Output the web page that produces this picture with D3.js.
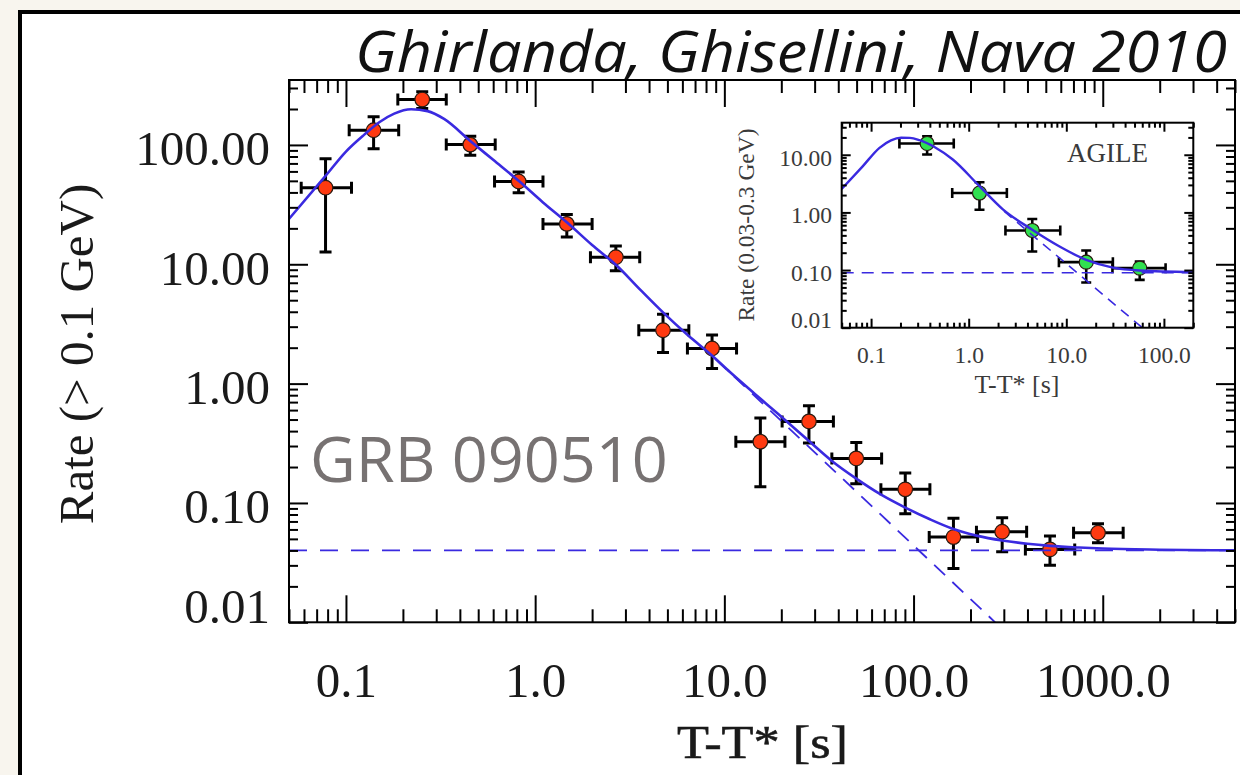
<!DOCTYPE html>
<html><head><meta charset="utf-8">
<script src="https://cdn.jsdelivr.net/npm/d3@7"></script>
<style>
html,body{margin:0;padding:0;background:#f8f5ee;overflow:hidden}
svg{display:block}
</style></head><body>
<svg id="c" width="1240" height="775"></svg>
<script>
// ---------- main panel data (Fermi-LAT, > 0.1 GeV) ----------
const lat_t    = [0.078, 0.140, 0.253, 0.454, 0.818, 1.47, 2.67, 4.74, 8.61, 15.5, 28.0, 49.8, 90.4, 162.5, 294, 526, 944];
const lat_rate = [43.8, 132.7, 240, 100.6, 49.4, 21.8, 11.45, 2.80, 1.97, 0.326, 0.482, 0.236, 0.130, 0.0518, 0.0574, 0.0408, 0.0563];
const lat_tLo  = [0.058, 0.104, 0.188, 0.339, 0.61, 1.10, 1.96, 3.53, 6.38, 11.5, 20.2, 37.0, 67.2, 121, 215, 390, 701];
const lat_tHi  = [0.107, 0.190, 0.339, 0.615, 1.10, 2.00, 3.57, 6.49, 11.6, 20.9, 37.7, 67.8, 122, 218, 396, 711, 1282];
const lat_rLo  = [12.7, 93, 202, 81.8, 39.7, 16.9, 8.84, 1.82, 1.34, 0.137, 0.318, 0.145, 0.0813, 0.0283, 0.039, 0.030, 0.0464];
const lat_rHi  = [76.7, 172, 279, 118, 59.3, 26.1, 14.2, 3.82, 2.56, 0.515, 0.653, 0.321, 0.178, 0.0744, 0.0752, 0.0528, 0.067];

// fitted model
const fit_t    = [0.05, 0.078, 0.1, 0.125, 0.15, 0.18, 0.221, 0.27, 0.33, 0.454, 0.6, 0.818, 1.1, 1.47, 2.0, 2.67, 3.6, 4.74, 6.4, 8.6, 10.7, 14.5, 19.4, 28, 37, 49.8, 67, 90.4, 122, 162.5, 218, 294, 400, 526, 750, 1000, 2000, 5000];
const fit_rate = [24, 55, 88, 122, 155, 183, 199, 192, 165, 108, 75, 50, 33, 22.5, 14.5, 9.9, 6.1, 3.95, 2.55, 1.72, 1.25, 0.82, 0.55, 0.33, 0.225, 0.16, 0.118, 0.0915, 0.073, 0.0605, 0.053, 0.0485, 0.0455, 0.0437, 0.0423, 0.0415, 0.0406, 0.0401];
const decay_t    = [9, 270];
const decay_rate = [1.6, 0.01];
const const_t    = [0.05, 5000];
const const_rate = [0.04, 0.04];

const mainXTicks  = [0.1, 1, 10, 100, 1000];
const mainXLabels = ["0.1", "1.0", "10.0", "100.0", "1000.0"];
const mainYTicks  = [0.01, 0.1, 1, 10, 100];
const mainYLabels = ["0.01", "0.10", "1.00", "10.00", "100.00"];

// ---------- inset data (AGILE, 0.03-0.3 GeV) ----------
const agile_t    = [0.375, 1.29, 4.48, 16.0, 56.5];
const agile_rate = [15.7, 2.17, 0.486, 0.137, 0.108];
const agile_tLo  = [0.195, 0.678, 2.38, 8.4, 29.7];
const agile_tHi  = [0.703, 2.46, 8.67, 30, 104];
const agile_rLo  = [10.1, 1.11, 0.21, 0.0607, 0.0676];
const agile_rHi  = [21, 3.33, 0.767, 0.218, 0.141];

const ifit_t    = [0.05, 0.082, 0.122, 0.16, 0.203, 0.25, 0.313, 0.45, 0.687, 1.29, 2.24, 4.48, 8.53, 16, 30, 56.5, 200];
const ifit_rate = [2.55, 6.3, 13.2, 17.8, 19.7, 19.6, 17.9, 13.5, 8.27, 2.85, 1.13, 0.50, 0.256, 0.150, 0.110, 0.098, 0.092];
const idecay_t    = [2.3, 60];
const idecay_rate = [1.05, 0.01];
const iconst_t    = [0.05, 200];
const iconst_rate = [0.09, 0.09];

const insetXTicks  = [0.1, 1, 10, 100];
const insetXLabels = ["0.1", "1.0", "10.0", "100.0"];
const insetYTicks  = [0.01, 0.1, 1, 10];
const insetYLabels = ["0.01", "0.10", "1.00", "10.00"];

// ---------- drawing ----------
const BLUE = "#3a2ae0", SERIF = "'Liberation Serif','Times New Roman',serif";
const svg = d3.select("#c");
svg.append("rect").attr("x", 20).attr("y", 12).attr("width", 1240).attr("height", 800)
  .attr("fill", "#fff").attr("stroke", "#000").attr("stroke-width", 4);

function minors(dom) {
  const out = [];
  for (let e = Math.floor(Math.log10(dom[0])) ; e <= Math.ceil(Math.log10(dom[1])); e++)
    for (let m = 2; m <= 9; m++) {
      const v = m * Math.pow(10, e);
      if (v >= dom[0] * 0.999 && v <= dom[1] * 1.001) out.push(v);
    }
  return out;
}

function axes(g, x, y, c) {
  const [x0, x1] = x.range(), [y0, y1] = y.range();
  const mk = (axis, tr, vals, len, fmt) => {
    const a = g.append("g").attr("transform", tr)
      .call(axis.tickValues(vals).tickSize(-len).tickFormat(fmt || (() => "")));
    a.select(".domain").remove();
    a.selectAll(".tick line").attr("stroke", "#000").attr("stroke-width", c.sw);
    a.attr("font-family", SERIF).attr("font-size", c.fs);
    a.selectAll("text").attr("fill", c.txt);
    return a;
  };
  const xm = minors(x.domain()), ym = minors(y.domain());
  const b = mk(d3.axisBottom(x), `translate(0,${y0})`, c.xT, c.xMaj, (d, i) => c.xL[i]);
  b.selectAll("text").attr("y", c.xLabY).attr("dy", null);
  mk(d3.axisBottom(x), `translate(0,${y0})`, xm, c.xMin);
  mk(d3.axisTop(x), `translate(0,${y1})`, c.xT, c.xMaj);
  mk(d3.axisTop(x), `translate(0,${y1})`, xm, c.xMin);
  const l = mk(d3.axisLeft(y), `translate(${x0},0)`, c.yT, c.yMaj, (d, i) => c.yL[i]);
  l.selectAll("text").attr("x", c.yLabX).attr("dy", null)
    .attr("y", d => d === c.yT[0] ? c.yLabDy0 : c.yLabDy);
  mk(d3.axisLeft(y), `translate(${x0},0)`, ym, c.yMin);
  mk(d3.axisRight(y), `translate(${x1},0)`, c.yT, c.yMaj);
  mk(d3.axisRight(y), `translate(${x1},0)`, ym, c.yMin);
  g.append("rect").attr("x", x0).attr("y", y1).attr("width", x1 - x0).attr("height", y0 - y1)
    .attr("fill", "none").attr("stroke", "#000").attr("stroke-width", c.sw);
}

function errorPoints(g, x, y, T, R, TL, TH, RL, RH, cap, sw, r, fill) {
  const idx = d3.range(T.length);
  const eb = g.append("g").attr("stroke", "#000").attr("stroke-width", sw).attr("fill", "none");
  idx.forEach(i => {
    const cx = x(T[i]), cy = y(R[i]);
    const p = d3.path();
    p.moveTo(cx, y(RL[i])); p.lineTo(cx, y(RH[i]));
    p.moveTo(cx - cap, y(RL[i])); p.lineTo(cx + cap, y(RL[i]));
    p.moveTo(cx - cap, y(RH[i])); p.lineTo(cx + cap, y(RH[i]));
    p.moveTo(x(TL[i]), cy); p.lineTo(x(TH[i]), cy);
    p.moveTo(x(TL[i]), cy - cap); p.lineTo(x(TL[i]), cy + cap);
    p.moveTo(x(TH[i]), cy - cap); p.lineTo(x(TH[i]), cy + cap);
    eb.append("path").attr("d", p.toString());
  });
  g.append("g").selectAll("circle").data(idx).join("circle")
    .attr("cx", i => x(T[i])).attr("cy", i => y(R[i])).attr("r", r)
    .attr("fill", fill).attr("stroke", "#2a1a10").attr("stroke-width", 1.2);
}

function lineOf(g, x, y, T, R, opts) {
  const ln = d3.line().x(i => x(T[i])).y(i => y(R[i])).curve(opts.curve || d3.curveLinear);
  g.append("path").attr("d", ln(d3.range(T.length))).attr("fill", "none")
    .attr("stroke", BLUE).attr("stroke-width", opts.w)
    .attr("stroke-dasharray", opts.dash || null);
}

// ----- main panel -----
const x = d3.scaleLog().domain([0.05, 5000]).range([289, 1235]);
const y = d3.scaleLog().domain([0.01, 350]).range([622.3, 80]);
const defs = svg.append("defs");
defs.append("clipPath").attr("id", "cm").append("rect").attr("x", 289).attr("y", 80).attr("width", 946).attr("height", 542.3);
defs.append("clipPath").attr("id", "ci").append("rect").attr("x", 841.7).attr("y", 122.7).attr("width", 351.6).attr("height", 205);

const gm = svg.append("g");
const pm = gm.append("g").attr("clip-path", "url(#cm)");
errorPoints(pm, x, y, lat_t, lat_rate, lat_tLo, lat_tHi, lat_rLo, lat_rHi, 6, 3, 7.3, "#ff3a10");
lineOf(pm, x, y, const_t, const_rate, {w: 1.8, dash: "18,13"});
lineOf(pm, x, y, decay_t, decay_rate, {w: 1.8, dash: "15,10"});
lineOf(pm, x, y, fit_t, fit_rate, {w: 2.6, curve: d3.curveMonotoneX});
axes(gm, x, y, {sw: 2, fs: 49, txt: "#1a1a1a", xT: mainXTicks, xL: mainXLabels, xMaj: 27, xMin: 13, xLabY: 74.5,
  yT: mainYTicks, yL: mainYLabels, yMaj: 19, yMin: 9, yLabX: -19, yLabDy: 20, yLabDy0: 0.5});

gm.append("text").attr("x", 310).attr("y", 482).attr("font-family", "'Open Sans',sans-serif")
  .attr("font-size", 63).attr("fill", "#777272").text("GRB 090510");

svg.append("text").attr("x", 677).attr("y", 758).attr("font-family", SERIF).attr("font-size", 47)
  .attr("textLength", 171).attr("lengthAdjust", "spacingAndGlyphs")
  .attr("stroke", "#1a1a1a").attr("stroke-width", 0.6)
  .attr("fill", "#1a1a1a").text("T-T* [s]");
svg.append("text").attr("transform", "translate(93,354) rotate(-90)").attr("text-anchor", "middle")
  .attr("font-family", SERIF).attr("font-size", 49).attr("fill", "#1a1a1a").text("Rate (> 0.1 GeV)");

svg.append("text").attr("x", 355).attr("y", 72).attr("font-family", "'Open Sans',sans-serif")
  .attr("font-style", "italic").attr("font-size", 56).attr("fill", "#111")
  .attr("textLength", 872).attr("lengthAdjust", "spacingAndGlyphs")
  .text("Ghirlanda, Ghisellini, Nava 2010");

// ----- inset -----
const xi = d3.scaleLog().domain([0.05, 200]).range([841.7, 1193.3]);
const yi = d3.scaleLog().domain([0.01, 36]).range([327.7, 122.7]);
const gi = svg.append("g");
gi.append("rect").attr("x", 841.7).attr("y", 122.7).attr("width", 351.6).attr("height", 205).attr("fill", "#fff");
const pi = gi.append("g").attr("clip-path", "url(#ci)");
errorPoints(pi, xi, yi, agile_t, agile_rate, agile_tLo, agile_tHi, agile_rLo, agile_rHi, 5, 2.6, 7, "#30e050");
lineOf(pi, xi, yi, iconst_t, iconst_rate, {w: 1.6, dash: "12,8"});
lineOf(pi, xi, yi, idecay_t, idecay_rate, {w: 1.6, dash: "10,7"});
lineOf(pi, xi, yi, ifit_t, ifit_rate, {w: 2.4, curve: d3.curveMonotoneX});
axes(gi, xi, yi, {sw: 2, fs: 23.5, txt: "#3a3a3a", xT: insetXTicks, xL: insetXLabels, xMaj: 9, xMin: 5, xLabY: 35.3,
  yT: insetYTicks, yL: insetYLabels, yMaj: 9, yMin: 5, yLabX: -9.7, yLabDy: 10.5, yLabDy0: 0});
gi.append("text").attr("x", 1017).attr("y", 393).attr("text-anchor", "middle").attr("font-family", SERIF)
  .attr("font-size", 26).attr("fill", "#3a3a3a").text("T-T* [s]");
gi.append("text").attr("transform", "translate(754,225) rotate(-90)").attr("text-anchor", "middle")
  .attr("font-family", SERIF).attr("font-size", 23.5).attr("fill", "#3a3a3a").text("Rate (0.03-0.3 GeV)");
gi.append("text").attr("x", 1067).attr("y", 162).attr("font-family", SERIF).attr("font-size", 27)
  .attr("fill", "#3a3a3a").text("AGILE");
</script>
</body></html>
